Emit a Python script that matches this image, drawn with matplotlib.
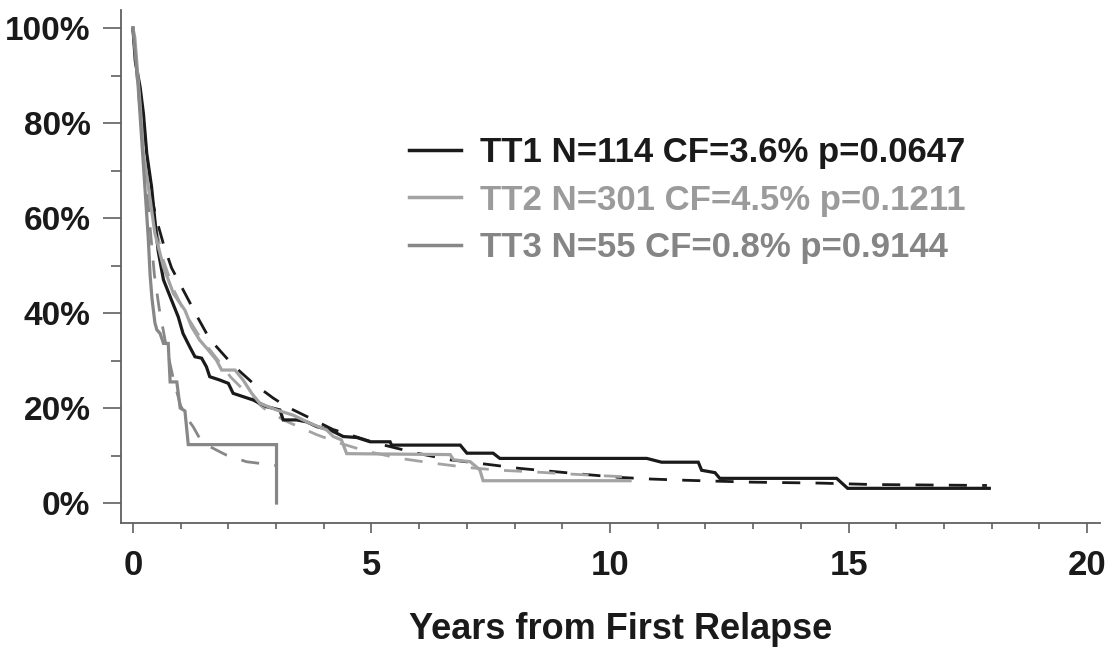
import matplotlib
matplotlib.use("Agg")
import matplotlib.pyplot as plt
from matplotlib.lines import Line2D
from matplotlib.ticker import MultipleLocator, FuncFormatter

plt.rcParams['font.family'] = ['Liberation Sans', 'DejaVu Sans']
plt.rcParams['font.weight'] = 'bold'

# ---- data ----
series_names = ["TT1 N=114 CF=3.6% p=0.0647",
                "TT2 N=301 CF=4.5% p=0.1211",
                "TT3 N=55 CF=0.8% p=0.9144"]

# Kaplan-Meier curves (years, survival %)
tt1_t = [0, 0.05, 0.15, 0.22, 0.29, 0.39, 0.46, 0.53, 0.64, 0.81, 0.95, 1.05, 1.19, 1.30, 1.44,
         1.54, 1.61, 1.82, 2.00, 2.10, 2.52, 2.80, 3.08, 3.15, 3.43, 3.64, 3.85, 4.13, 4.41, 4.69,
         4.97, 5.39, 5.42, 6.86, 7.00, 7.55, 7.69, 10.77, 11.08, 11.85, 11.92, 12.20, 12.30,
         14.75, 14.98, 17.95]
tt1_s = [100, 93, 87.6, 82, 73.6, 66.6, 59.6, 53, 47, 42.7, 39.2, 35.7, 32.9, 30.8, 30.5,
         28.7, 26.6, 25.9, 25.2, 23.1, 21.7, 20.3, 19.6, 17.5, 17.5, 17.1, 16.1, 15.4, 14.0, 13.8,
         12.9, 12.9, 12.2, 12.2, 10.5, 10.5, 9.4, 9.4, 8.6, 8.6, 6.9, 6.4, 5.2,
         5.2, 3.1, 3.1]

tt2_t = [0, 0.04, 0.15, 0.22, 0.36, 0.46, 0.64, 0.85, 1.09, 1.23, 1.40, 1.58, 1.75, 1.86, 2.14,
         2.31, 2.49, 2.66, 3.01, 3.36, 3.71, 4.06, 4.20, 4.37, 4.48, 6.65, 6.72, 7.07, 7.27, 7.34,
         10.42]
tt2_s = [100, 98, 84, 73.6, 64, 56.8, 49.7, 44.1, 40.6, 37.1, 34.3, 32.2, 30.1, 28, 28,
         25.9, 23.1, 21, 19.6, 18.5, 16.8, 15.4, 14, 13.3, 10.4, 10.2, 9.1, 8.7, 7.0, 4.7,
         4.7]

tt3_t = [0, 0.11, 0.18, 0.25, 0.32, 0.36, 0.40, 0.46, 0.50, 0.57, 0.64, 0.74, 0.78, 0.92, 0.99,
         1.09, 1.16, 3.01, 3.01]
tt3_s = [100, 87.6, 77.1, 66.6, 56, 48, 43, 38, 36.5, 35.7, 33.6, 33.6, 25.5, 25.5, 20,
         19.4, 12.3, 12.3, 0]

# Fitted cure-model curves (years, survival %)
fit1_t = [0, 0.1, 0.2, 0.3, 0.39, 0.5, 0.64, 0.81, 1.02, 1.35, 1.61, 2.1, 2.52, 2.94, 3.22, 3.71,
          4.19, 5.1, 5.95, 6.65, 7.55, 8.1, 9.5, 10.2, 10.87, 11.57, 12.26, 12.97, 14.4, 15.5, 17.9]
fit1_s = [100, 89, 80, 72, 64.5, 59.5, 54.5, 49.5, 45.5, 39.2, 34.5, 29, 25.2, 22.1, 20.3, 17.9,
          15.5, 12.6, 10.5, 9.1, 8.0, 7.3, 6.0, 5.4, 5.05, 4.8, 4.6, 4.4, 4.2, 3.9, 3.7]

fit2_t = [0, 0.1, 0.2, 0.3, 0.4, 0.5, 0.64, 0.85, 1.09, 1.4, 1.75, 2.05, 2.45, 2.8, 3.22, 3.85,
          4.34, 4.9, 5.6, 6.29, 7.0, 7.69, 8.32, 9.0, 9.72, 10.4]
fit2_s = [100, 88, 77, 69, 62.5, 57, 51, 45, 40, 35, 30.5, 26.5, 22.5, 19.5, 17.2, 14.4,
          12.6, 10.9, 9.4, 8.4, 7.5, 6.9, 6.6, 6.2, 5.8, 5.5]

fit3_t = [0, 0.11, 0.22, 0.29, 0.36, 0.45, 0.55, 0.7, 0.85, 1.0, 1.16, 1.26, 1.4, 1.61, 1.82,
          1.96, 2.38, 2.94, 3.0]
fit3_s = [100, 88, 75, 67, 58, 48, 41, 32.9, 26, 20.5, 17.5, 16.1, 13.6, 11.9, 10.8,
          10.1, 8.7, 8.0, 7.9]

x_ticks = [0, 5, 10, 15, 20]
y_ticks = [0, 20, 40, 60, 80, 100]
x_label = "Years from First Relapse"

# ---- styling ----
line_colors = ['#1a1a1a', '#a3a3a3', '#878787']
text_colors = ['#1a1a1a', '#9b9b9b', '#858585']
axis_color = '#606060'

fig = plt.figure(figsize=(11.12, 6.52), dpi=100)
ax = fig.add_axes([121 / 1112, 1 - 523 / 652, (1100 - 121) / 1112, (523 - 10) / 652])

km = [(tt1_t, tt1_s), (tt2_t, tt2_s), (tt3_t, tt3_s)]
fits = [(fit1_t, fit1_s), (fit2_t, fit2_s), (fit3_t, fit3_s)]

for (t, s), c in zip(fits, line_colors):
    ax.plot(t, s, color=c, lw=2.0, dashes=(6.5, 5.5), zorder=2)
for (t, s), c in zip(km, line_colors):
    ax.plot(t, s, color=c, lw=2.3, solid_joinstyle='miter', zorder=3)

ax.set_xlim(-0.25, 20.27)
ax.set_ylim(-4.2, 103.8)
ax.set_xticks(x_ticks)
ax.set_yticks(y_ticks)
ax.xaxis.set_minor_locator(MultipleLocator(1))
ax.yaxis.set_minor_locator(MultipleLocator(10))
ax.yaxis.set_major_formatter(FuncFormatter(lambda v, p: f"{int(v)}%"))

for side in ['top', 'right']:
    ax.spines[side].set_visible(False)
for side in ['left', 'bottom']:
    ax.spines[side].set_color(axis_color)
    ax.spines[side].set_linewidth(1.3)

ax.tick_params(axis='y', which='major', length=13, width=1.2, color=axis_color,
               labelsize=24, pad=9, labelcolor='#1a1a1a')
ax.tick_params(axis='y', which='minor', length=7, width=1.2, color=axis_color)
ax.tick_params(axis='x', which='major', length=7, width=1.2, color=axis_color,
               labelsize=25, pad=12, labelcolor='#1a1a1a')
ax.tick_params(axis='x', which='minor', length=4, width=1.2, color=axis_color)
for lab in ax.get_xticklabels() + ax.get_yticklabels():
    lab.set_fontweight('bold')

ax.set_xlabel(x_label, fontsize=26, fontweight='bold', color='#1a1a1a')
ax.xaxis.set_label_coords((621 - 121) / 979, (523 - 612) / 513)

leg_handles = [Line2D([0], [0], color=c, lw=2.5) for c in line_colors]
leg = ax.legend(leg_handles, series_names, loc='upper left',
                bbox_to_anchor=(409 / 1112, 1 - 136 / 652), bbox_transform=fig.transFigure,
                frameon=False, prop={'weight': 'bold', 'size': 25},
                handlelength=1.5, handletextpad=0.55, labelspacing=0.42,
                borderpad=0, borderaxespad=0)
for txt, c in zip(leg.get_texts(), text_colors):
    txt.set_color(c)

fig.savefig("out.png", dpi=100)
